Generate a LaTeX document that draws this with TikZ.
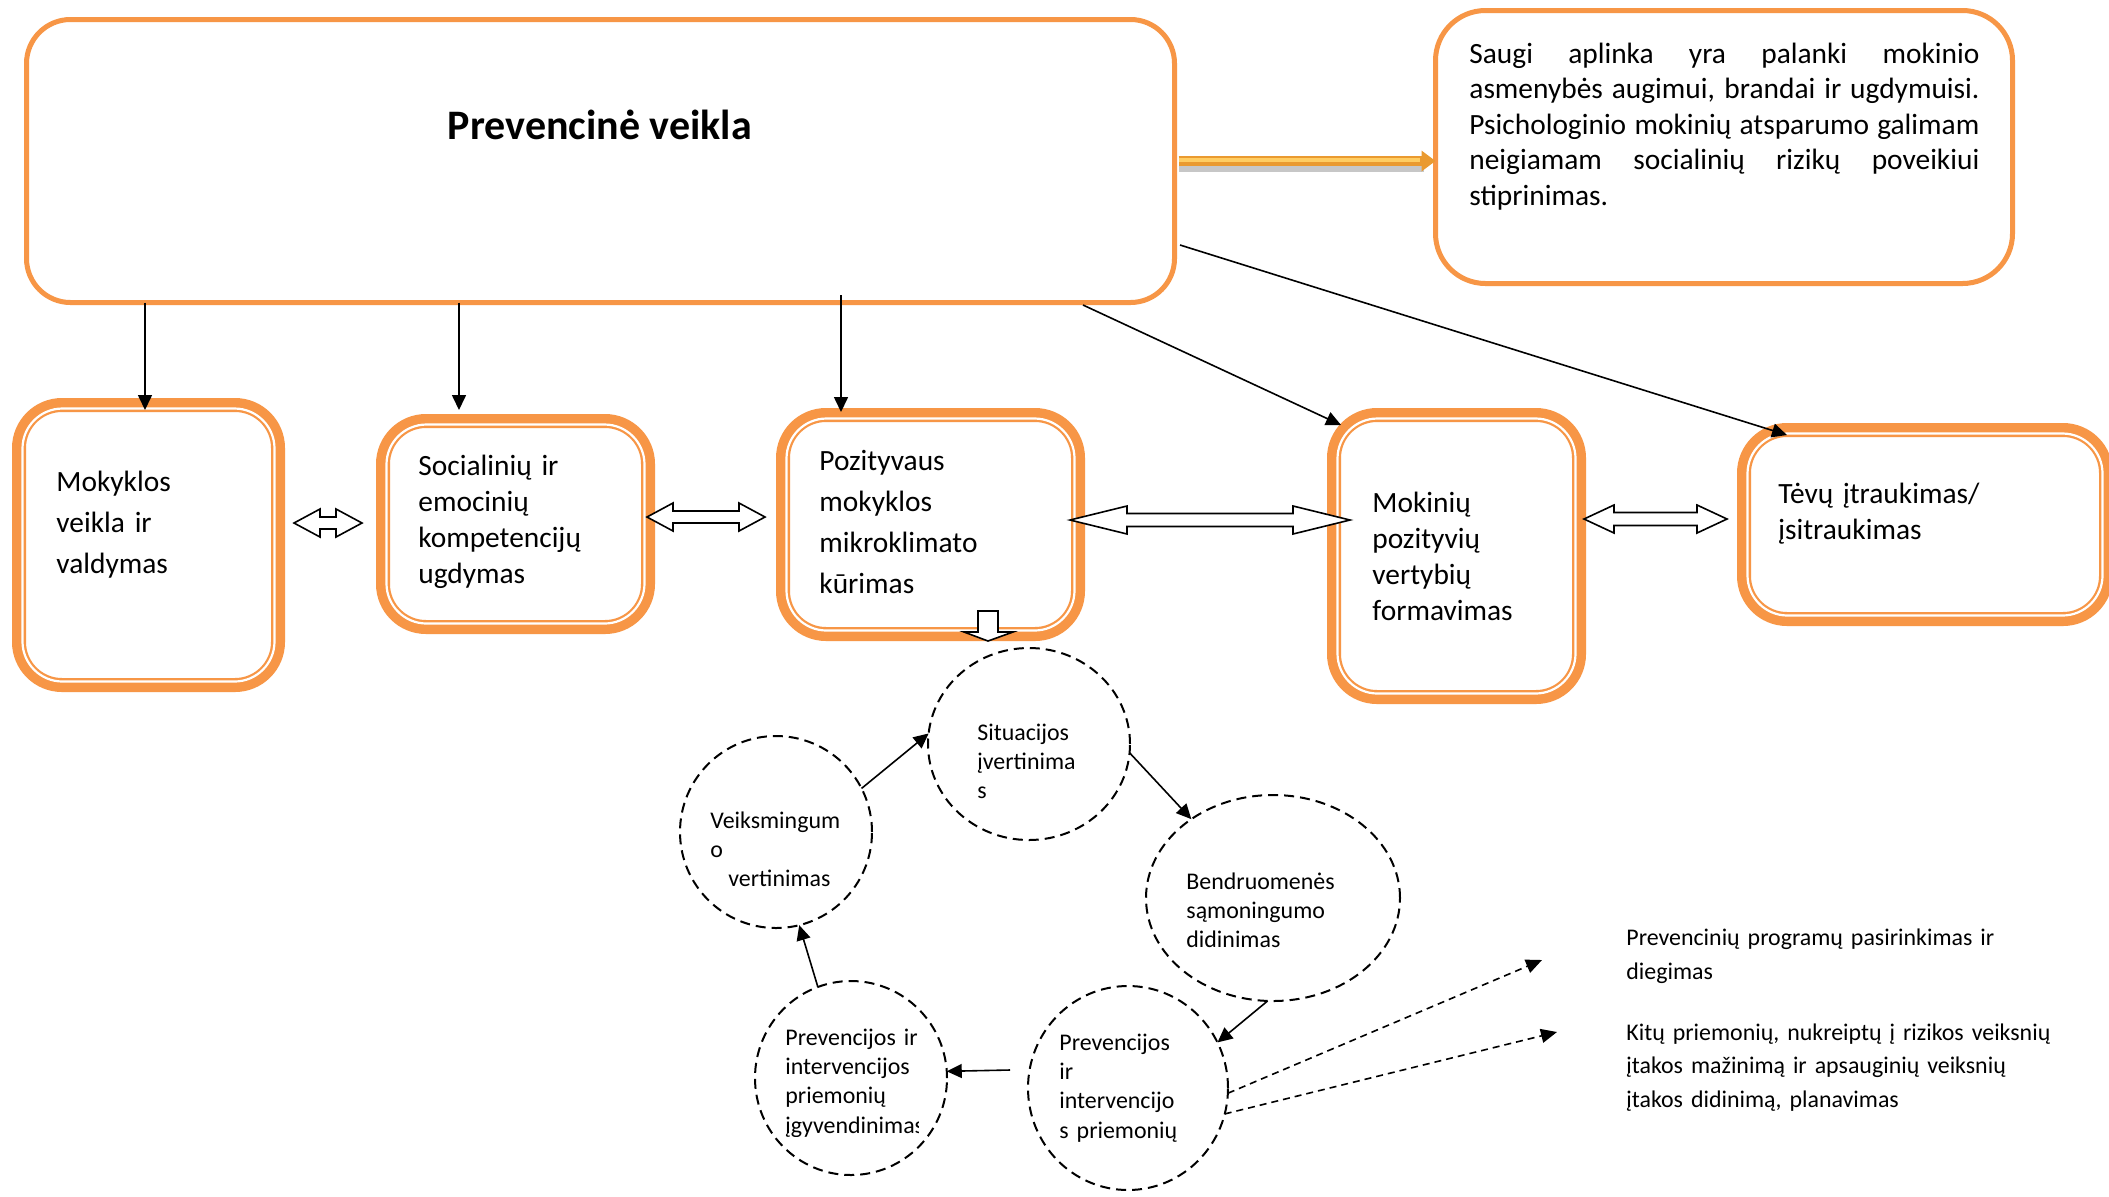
\documentclass[tikz,border=0pt]{standalone}
\usepackage{fontspec}
\setmainfont{Carlito}
\usetikzlibrary{arrows.meta,shapes.geometric,calc}
\definecolor{boxorange}{HTML}{F79646}
\definecolor{goldA}{HTML}{EA9A30}
\definecolor{goldB}{HTML}{FFCD62}
\newcommand\dblarr[6]{\draw[blockarr] (#1,#3) -- ({#1+#4},{#3-#5}) -- ({#1+#4},{#3-#6}) -- ({#2-#4},{#3-#6}) -- ({#2-#4},{#3-#5}) -- (#2,#3) -- ({#2-#4},{#3+#5}) -- ({#2-#4},{#3+#6}) -- ({#1+#4},{#3+#6}) -- ({#1+#4},{#3+#5}) -- cycle;}
\newcommand\innerrim[1]{\draw[rimgap] ($(#1.north west)+(3.5,3.5)$) rectangle ($(#1.south east)+(-3.5,-3.5)$);}
\tikzset{
  mainbox/.style={rectangle, draw=boxorange, line width=2.5pt, rounded corners=22pt, fill=white, inner sep=0pt, outer sep=0pt},
  obox/.style={rectangle, draw=boxorange, line width=7pt, rounded corners=21.5pt, fill=white, inner sep=0pt, outer sep=0pt},
  rimgap/.style={draw=white, line width=1.1pt, rounded corners=20pt},
  btext/.style={anchor=base west, inner sep=0pt, text width=220pt, align=left},
  ctext/.style={anchor=base west, inner sep=0pt, text width=120pt, align=left, font=\fontsize{11.95}{14.7}\selectfont},
  rtext/.style={anchor=base west, inner sep=0pt, text width=260pt, align=left},
  circ/.style={ellipse, draw=black, line width=1pt, dash pattern=on 5pt off 3pt, inner sep=0pt, outer sep=0pt},
  conn/.style={draw=black, line width=0.8pt, -{Triangle[length=7.5pt,width=7pt]}},
  darr/.style={draw=black, line width=0.8pt, dash pattern=on 3.5pt off 2.5pt, -{Triangle[length=8pt,width=7pt]}},
  blockarr/.style={draw=black, fill=white, line width=0.8pt, line join=miter},
}
\begin{document}
\begin{tikzpicture}[x=0.5pt,y=-0.5pt]
\useasboundingbox (0,0) rectangle (2109,1196);
\fill[white] (0,0) rectangle (2109,1196);

% main boxes
\node[mainbox, minimum width=574pt, minimum height=141.5pt] (m) at (600.5,161) {};
\node[anchor=base, inner sep=0pt, font=\fontsize{21}{25}\selectfont\bfseries] (mt) at (600,139) {Prevencinė veikla};

\node[mainbox, rounded corners=25pt, minimum width=288.5pt, minimum height=136.5pt] (t) at (1724,147) {};
\node[anchor=base west, inner sep=0pt, text width=255pt, align=justify, font=\fontsize{14.7}{17.8}\selectfont] (tt) at (1469,63)
 {Saugi aplinka yra palanki mokinio\linebreak asmenybės augimui, brandai ir ugdymuisi.\linebreak Psichologinio mokinių atsparumo galimam\linebreak neigiamam socialinių rizikų poveikiui\linebreak stiprinimas.};

% second row boxes
\node[obox, minimum width=129.5pt, minimum height=140pt] (b1) at (148.5,545) {};
\node[obox, minimum width=132.5pt, minimum height=103pt] (b2) at (515.5,524) {};
\node[obox, minimum width=147.5pt, minimum height=109.5pt] (b3) at (930.5,524.5) {};
\node[obox, minimum width=122.5pt, minimum height=141pt] (b4) at (1456.5,556) {};
\node[obox, minimum width=181pt, minimum height=94.5pt] (b5) at (1925,524.5) {};
\innerrim{b1}
\innerrim{b2}
\innerrim{b3}
\innerrim{b4}
\innerrim{b5}

\node[btext, font=\fontsize{14.7}{20.5}\selectfont] (b1t) at (56,491) {Mokyklos\\veikla ir\\valdymas};
\node[btext, font=\fontsize{14.7}{18}\selectfont] (b2t) at (418,475) {Socialinių ir\\emocinių\\kompetencijų\\ugdymas};
\node[btext, font=\fontsize{14.7}{20.5}\selectfont] (b3t) at (819,470) {Pozityvaus\\mokyklos\\mikroklimato\\kūrimas};
\node[btext, font=\fontsize{14.7}{18}\selectfont] (b4t) at (1372,512) {Mokinių\\pozityvių\\vertybių\\formavimas};
\node[btext, font=\fontsize{14.7}{18}\selectfont] (b5t) at (1778,503) {Tėvų įtraukimas/\\įsitraukimas};

% circles
\node[circ, minimum width=101pt, minimum height=96pt] (sit) at (1029,744) {};
\node[circ, minimum width=96pt, minimum height=96pt] (vei) at (776,832) {};
\node[circ, minimum width=127pt, minimum height=103pt] (ben) at (1273,898) {};
\node[circ, minimum width=100pt, minimum height=102pt] (pp) at (1128,1088) {};
\node[circ, minimum width=96pt, minimum height=97pt] (pi) at (851,1078) {};

\node[ctext] (sitt) at (977,740) {Situacijos\\įvertinima\\s};
\node[ctext] (veit) at (710,828) {Veiksmingum\\o\\\hspace*{9pt}vertinimas};
\node[ctext] (bent) at (1186,889) {Bendruomenės\\sąmoningumo\\didinimas};
\node[ctext] (ppt) at (1059,1050) {Prevencijos\\ir\\intervencijo\\s priemonių};
\begin{scope}
\clip (770,1000) rectangle (918,1136);
\node[ctext] (pit) at (785,1045) {Prevencijos ir\\intervencijos\\priemonių\\įgyvendinimas};
\end{scope}

% right texts
\node[rtext, font=\fontsize{11.95}{17}\selectfont] (r1) at (1626,945) {Prevencinių programų pasirinkimas ir\\diegimas};
\node[rtext, font=\fontsize{11.95}{16.75}\selectfont] (r2) at (1626,1040) {Kitų priemonių, nukreiptų į rizikos veiksnių\\įtakos mažinimą ir apsauginių veiksnių\\įtakos didinimą, planavimas};

% gold arrow
\draw[line width=3pt, black!22] ($(m.east)+(4,8)$) -- ($(m.east -| t.west)+(-12,8)$);
\draw[line width=5pt, goldA, -{Triangle[length=7pt,width=10pt]}] ($(m.east)+(4,0)$) -- (m.east -| t.west);
\draw[line width=1.8pt, goldB] ($(m.east)+(4,-1)$) -- ($(m.east -| t.west)+(-16,-1)$);

% connectors from main box
\coordinate (b1in) at ([xshift=-1.75pt,yshift=-2.5pt]b1.north);
\coordinate (b2in) at ([xshift=-28.25pt,yshift=5.5pt]b2.north);
\coordinate (b3in) at ([xshift=-44.75pt,yshift=1.5pt]b3.north);
\draw[conn] (b1in |- m.south) -- (b1in);
\draw[conn] (b2in |- m.south) -- (b2in);
\draw[conn] ($(b3in |- m.south)+(0,-7.5)$) -- (b3in);
\draw[conn] ($(m.south east)+(-91.5,2.5)$) -- ($(b4.north west)+(7,10)$);
\draw[conn] ($(m.south east)+(5.5,-57.5)$) -- ($(b5.north west)+(43,5)$);

% double block arrows
\dblarr{294}{362}{523}{26}{14}{6}
\dblarr{647}{765}{517}{26}{14}{6}
\dblarr{1070}{1350}{520}{57}{14}{6.5}
\dblarr{1584}{1727}{519}{30}{14}{6.5}

% down block arrow
\draw[blockarr] (978,611) -- (998,611) -- (998,632) -- (1013,632) -- (988,641) -- (964,632) -- (978,632) -- cycle;

% cycle arrows
\draw[conn] (vei.27) -- (sit.174);
\draw[conn] (sit.-5) -- (ben.136);
\draw[conn] (ben.-93) -- (pp.27);
\draw[conn] ($(pp.west)+(-18,-18)$) -- (pi.4);
\draw[conn] (pi.110) -- (vei.-76);

% dashed arrows
\coordinate (d1) at (1542,960);
\coordinate (d2) at (1557,1032);
\draw[darr] (pp.-3) -- (d1);
\draw[darr] (pp.-15) -- (d2);
\end{tikzpicture}
\end{document}
